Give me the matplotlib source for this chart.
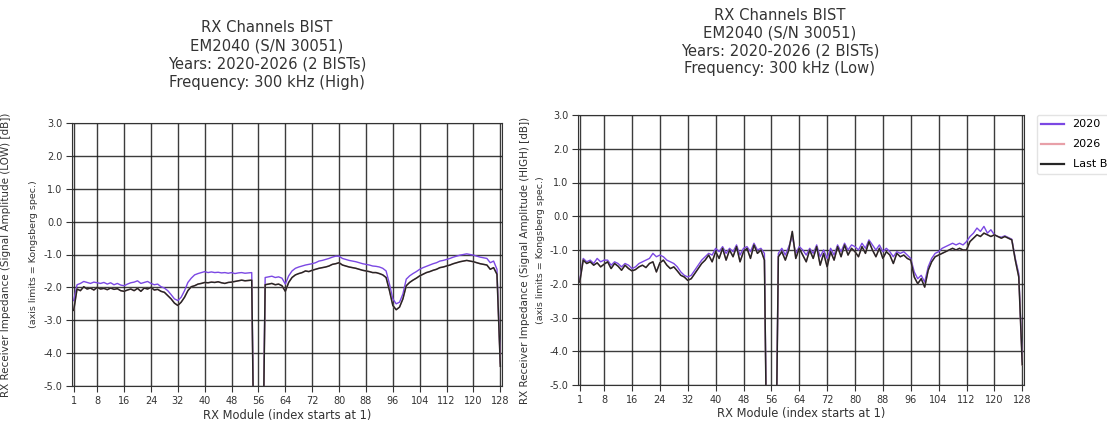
import matplotlib
matplotlib.use("Agg")
import matplotlib.pyplot as plt
import numpy as np

modules = list(range(1, 129))
x_ticks = [1, 8, 16, 24, 32, 40, 48, 56, 64, 72, 80, 88, 96, 104, 112, 120, 128]
y_ticks = [3, 2, 1, 0, -1, -2, -3, -4, -5]

series_labels = ["2020", "2026", "Last BIST"]
series_colors = ["#7b48e3", "#e8a0a8", "#262626"]

# Left panel: 300 kHz (High)
high_2020 = [
    -2.40, -1.92, -1.88, -1.82, -1.85, -1.88, -1.84, -1.86,
    -1.88, -1.85, -1.90, -1.86, -1.92, -1.88, -1.93, -1.95,
    -1.90, -1.86, -1.84, -1.80, -1.88, -1.85, -1.82, -1.88,
    -1.92, -1.90, -1.98, -2.02, -2.10, -2.22, -2.35, -2.40,
    -2.30, -2.10, -1.85, -1.72, -1.62, -1.58, -1.55, -1.52,
    -1.55, -1.53, -1.55, -1.54, -1.56, -1.55, -1.57, -1.55,
    -1.58, -1.56, -1.55, -1.57, -1.56, -1.55, -10.0, -10.0,
    -10.0, -1.70, -1.68, -1.66, -1.70, -1.68, -1.72, -1.90,
    -1.65, -1.50, -1.42, -1.38, -1.35, -1.32, -1.30, -1.28,
    -1.25, -1.20, -1.18, -1.15, -1.12, -1.08, -1.05, -1.05,
    -1.12, -1.15, -1.18, -1.20, -1.22, -1.25, -1.28, -1.30,
    -1.32, -1.35, -1.36, -1.38, -1.42, -1.50, -1.90, -2.35,
    -2.50, -2.45, -2.20, -1.75, -1.65, -1.58, -1.52, -1.45,
    -1.40, -1.36, -1.32, -1.28, -1.25, -1.20, -1.18, -1.15,
    -1.12, -1.08, -1.05, -1.02, -1.00, -0.98, -1.00, -1.02,
    -1.05, -1.08, -1.10, -1.12, -1.25, -1.20, -1.45, -4.30,
]
high_2026 = [
    -2.70, -2.05, -2.10, -1.98, -2.05, -2.02, -2.08, -2.00,
    -2.05, -2.03, -2.07, -2.02, -2.06, -2.04, -2.10, -2.12,
    -2.08, -2.05, -2.10, -2.03, -2.12, -2.02, -2.05, -2.00,
    -2.08, -2.06, -2.12, -2.15, -2.25, -2.35, -2.48, -2.55,
    -2.45, -2.30, -2.10, -1.98, -1.95, -1.90, -1.88, -1.85,
    -1.86, -1.84, -1.85, -1.83, -1.86, -1.88, -1.85, -1.84,
    -1.82, -1.80, -1.78, -1.80, -1.79, -1.78, -10.0, -10.0,
    -10.0, -1.92, -1.90, -1.88, -1.92, -1.90, -1.95, -2.12,
    -1.85, -1.70, -1.62, -1.58, -1.55, -1.50, -1.52, -1.48,
    -1.45, -1.42, -1.40, -1.38, -1.35, -1.30, -1.28, -1.25,
    -1.32, -1.35, -1.38, -1.40, -1.42, -1.45, -1.48, -1.50,
    -1.52, -1.55, -1.55, -1.58, -1.62, -1.70, -2.10, -2.55,
    -2.68, -2.60, -2.35, -1.95, -1.85, -1.78, -1.72, -1.65,
    -1.60, -1.55, -1.52, -1.48, -1.45, -1.40, -1.38, -1.35,
    -1.32, -1.28, -1.25, -1.22, -1.20, -1.18, -1.20, -1.22,
    -1.25, -1.28, -1.30, -1.32, -1.45, -1.40, -1.60, -4.40,
]
high_last = high_2026

# Right panel: 300 kHz (Low)
low_2020 = [
    -1.90, -1.25, -1.35, -1.30, -1.40, -1.25, -1.35, -1.30,
    -1.30, -1.45, -1.35, -1.40, -1.50, -1.40, -1.45, -1.55,
    -1.50, -1.40, -1.35, -1.30, -1.25, -1.10, -1.20, -1.15,
    -1.20, -1.30, -1.35, -1.40, -1.50, -1.65, -1.75, -1.80,
    -1.75, -1.60, -1.45, -1.30, -1.20, -1.10, -1.15, -0.95,
    -1.05, -0.90, -1.10, -0.95, -1.05, -0.85, -1.15, -0.95,
    -0.90, -1.05, -0.80, -1.00, -0.95, -1.10, -10.0, -10.0,
    -10.0, -1.10, -0.95, -1.15, -0.90, -0.60, -1.10, -0.90,
    -1.00, -1.15, -0.95, -1.10, -0.85, -1.20, -1.00, -1.25,
    -0.95, -1.15, -0.85, -1.05, -0.80, -1.00, -0.85, -0.90,
    -1.00, -0.80, -0.95, -0.70, -0.85, -1.00, -0.85, -1.05,
    -0.95, -1.05, -1.20, -1.05, -1.10, -1.05, -1.15, -1.25,
    -1.65, -1.85, -1.75, -1.95, -1.50, -1.25, -1.10, -1.05,
    -0.95, -0.90, -0.85, -0.80, -0.85, -0.80, -0.85, -0.75,
    -0.60, -0.50, -0.35, -0.45, -0.30, -0.50, -0.40, -0.55,
    -0.60, -0.62, -0.58, -0.63, -0.68, -1.25, -1.70, -4.30,
]
low_2026 = [
    -1.95, -1.30, -1.40, -1.35, -1.45, -1.38, -1.50, -1.42,
    -1.35, -1.55, -1.40, -1.48, -1.60, -1.45, -1.55, -1.62,
    -1.58, -1.50, -1.45, -1.52, -1.40, -1.35, -1.65, -1.38,
    -1.30, -1.45, -1.55, -1.50, -1.62, -1.75, -1.80, -1.90,
    -1.85, -1.70, -1.55, -1.40, -1.30, -1.15, -1.35, -1.05,
    -1.25, -0.95, -1.30, -1.00, -1.20, -0.90, -1.35, -1.05,
    -0.95, -1.25, -0.85, -1.10, -1.00, -1.30, -10.0, -10.0,
    -10.0, -1.20, -1.05, -1.30, -1.00, -0.45, -1.25, -0.95,
    -1.15, -1.35, -1.00, -1.25, -0.90, -1.45, -1.10, -1.50,
    -1.05, -1.30, -0.90, -1.20, -0.85, -1.15, -0.95, -1.05,
    -1.20, -0.90, -1.10, -0.75, -1.00, -1.20, -0.95, -1.25,
    -1.05, -1.15, -1.40, -1.10, -1.20, -1.15, -1.25, -1.30,
    -1.80, -2.00, -1.85, -2.10, -1.60, -1.35, -1.20, -1.15,
    -1.10, -1.05, -1.00, -0.95, -1.00, -0.95, -1.00, -1.00,
    -0.75, -0.65, -0.55, -0.60, -0.50, -0.55, -0.60, -0.55,
    -0.60, -0.65, -0.60, -0.65, -0.70, -1.30, -1.80, -4.40,
]
low_last = low_2026

title_common = "RX Channels BIST\nEM2040 (S/N 30051)\nYears: 2020-2026 (2 BISTs)\n"
title_left = title_common + "Frequency: 300 kHz (High)"
title_right = title_common + "Frequency: 300 kHz (Low)"
xlabel = "RX Module (index starts at 1)"
ylab1_left = "RX Receiver Impedance (Signal Amplitude (LOW) [dB])"
ylab1_right = "RX Receiver Impedance (Signal Amplitude (HIGH) [dB])"
ylab2 = "(axis limits = Kongsberg spec.)"

W, H = 1107, 432
fig = plt.figure(figsize=(W / 100, H / 100), dpi=100)

def fx(px):
    return px / W

def fy(py):
    return 1 - py / H

ax_l = fig.add_axes([fx(72), fy(386), fx(502) - fx(72), fy(123) - fy(386)])
ax_r = fig.add_axes([fx(578), fy(385), fx(1024) - fx(578), fy(115) - fy(385)])

panels = [
    (ax_l, [high_2020, high_2026, high_last], -0.078),
    (ax_r, [low_2020, low_2026, low_last], -0.073),
]
for ax, data, lab_x in panels:
    lws = [1.0, 1.0, 1.1]
    for vals, lab, col, lw in zip(data, series_labels, series_colors, lws):
        ax.plot(modules, vals, color=col, lw=lw, label=lab)
    ax.set_xlim(0.5, 128.5)
    ax.set_ylim(-5, 3)
    ax.set_xticks(x_ticks)
    ax.set_yticks(y_ticks)
    ax.set_yticklabels([f"{v:.1f}" for v in y_ticks])
    ax.tick_params(labelsize=7, length=4, color="#333333", labelcolor="#333333",
                   pad=3)
    ax.grid(True, color="#1a1a1a", lw=1.0, alpha=0.85)
    ax.set_axisbelow(True)
    for s in ax.spines.values():
        s.set_color("#333333")
    ax.set_xlabel(xlabel, fontsize=8.3, color="#333333", labelpad=2)
    ax.set_ylabel(ylab2, fontsize=6.8, color="#333333")
    ax.yaxis.set_label_coords(lab_x, 0.5)

fig.text(fx(267), fy(55), title_left, ha="center", va="center", fontsize=10.6,
         linespacing=1.25, color="#333333")
fig.text(fx(780), fy(42), title_right, ha="center", va="center", fontsize=10.6,
         linespacing=1.25, color="#333333")
fig.text(fx(6), fy(255), ylab1_left, rotation=90, ha="center", va="center",
         fontsize=7.5, color="#333333")
fig.text(fx(525), fy(260), ylab1_right, rotation=90, ha="center", va="center",
         fontsize=7.5, color="#333333")

leg = ax_r.legend(loc="upper left", bbox_to_anchor=(fx(1037), fy(115)),
                  bbox_transform=fig.transFigure, fontsize=8, frameon=True,
                  edgecolor="#dddddd", fancybox=True, borderaxespad=0,
                  labelspacing=0.9)
for line in leg.get_lines():
    line.set_linewidth(1.6)

fig.savefig("out.png", dpi=100)
